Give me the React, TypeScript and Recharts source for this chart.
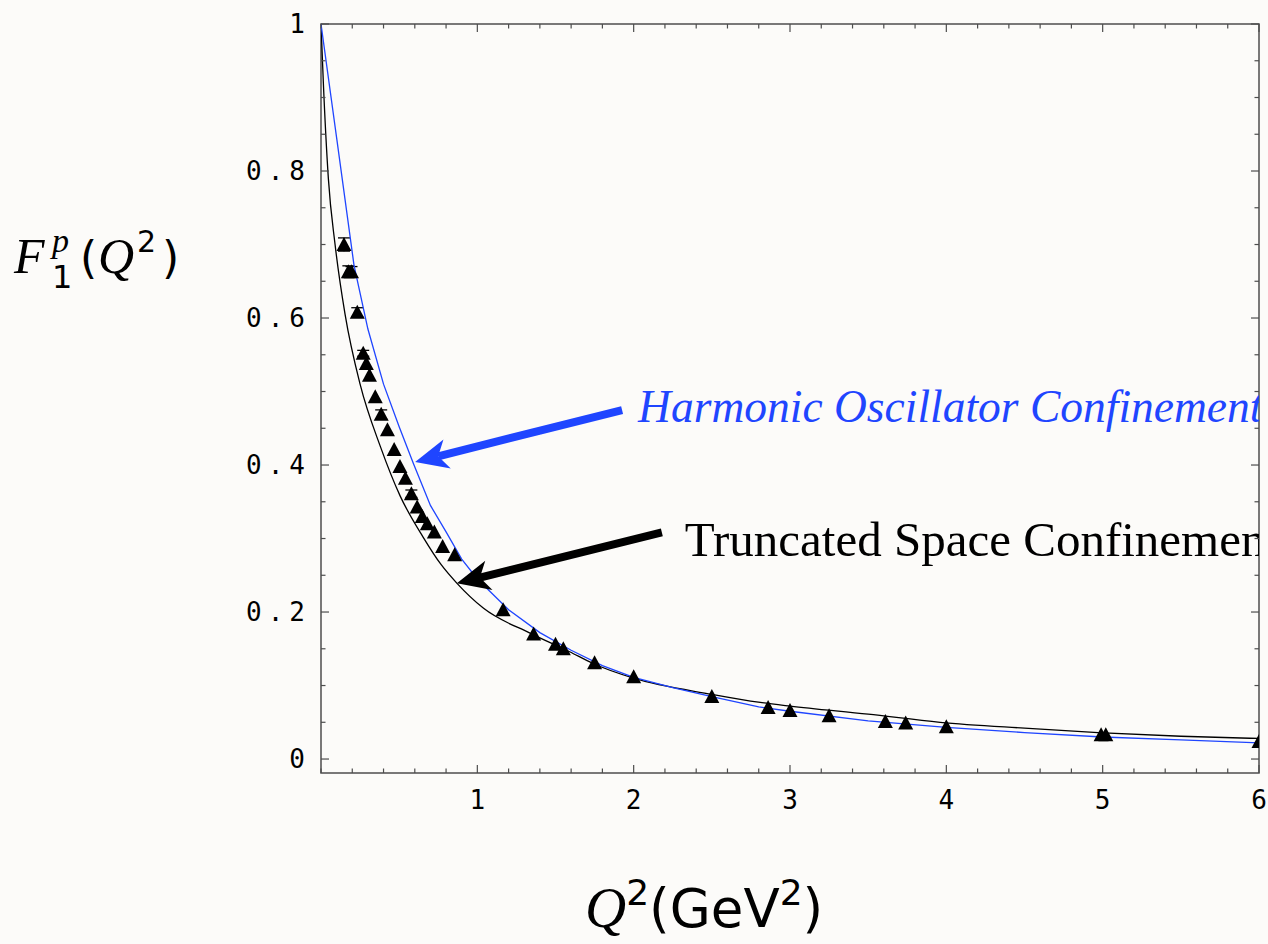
import React from 'react';
import { ComposedChart, Line, Scatter, ErrorBar, XAxis, YAxis, ReferenceArea, ReferenceDot } from 'recharts';

// measured proton F1 (triangles)
const expQ2 = [0.147, 0.175, 0.195, 0.232, 0.27, 0.29, 0.31, 0.347, 0.385, 0.425, 0.468, 0.505, 0.54, 0.578, 0.615, 0.648, 0.68, 0.725, 0.778, 0.855, 1.165, 1.36, 1.5, 1.55, 1.75, 2.0, 2.5, 2.86, 3.0, 3.25, 3.61, 3.74, 4.0, 4.99, 5.02, 6.0];
const expF1 = [0.7, 0.663, 0.663, 0.608, 0.552, 0.538, 0.522, 0.493, 0.469, 0.448, 0.421, 0.398, 0.382, 0.361, 0.343, 0.33, 0.32, 0.309, 0.289, 0.278, 0.203, 0.17, 0.156, 0.15, 0.131, 0.112, 0.085, 0.07, 0.066, 0.059, 0.051, 0.049, 0.044, 0.033, 0.033, 0.024];
const expErr = [0.009, 0.008, 0.007, 0.006, 0.004, null, null, null, 0.006, null, null, null, null, 0.005, null, null, null, null, null, null, null, null, null, null, null, null, null, null, null, null, null, null, null, null, null, null];

// harmonic oscillator confinement (blue)
const hoQ2 = [0, 0.1, 0.211, 0.3, 0.4, 0.5, 0.591, 0.7, 0.8, 0.9, 1.0, 1.2, 1.4, 1.6, 1.8, 2.0, 2.25, 2.5, 2.8, 3.0, 3.5, 4.0, 4.5, 5.0, 5.5, 6.0];
const hoF1 = [1, 0.845, 0.672, 0.585, 0.51, 0.452, 0.402, 0.345, 0.309, 0.272, 0.245, 0.203, 0.172, 0.148, 0.127, 0.111, 0.097, 0.085, 0.071, 0.065, 0.052, 0.043, 0.036, 0.03, 0.026, 0.022];

// truncated space confinement (black)
const tsQ2 = [0, 0.015, 0.047, 0.09, 0.154, 0.25, 0.38, 0.506, 0.653, 0.77, 0.87, 1.04, 1.34, 1.59, 1.74, 2.0, 2.5, 2.81, 3.0, 3.5, 3.96, 4.5, 4.97, 5.5, 6.0];
const tsF1 = [1, 0.92, 0.79, 0.7, 0.605, 0.51, 0.425, 0.358, 0.302, 0.264, 0.239, 0.205, 0.171, 0.146, 0.13, 0.11, 0.088, 0.077, 0.072, 0.061, 0.05, 0.042, 0.036, 0.031, 0.028];

const xTicks = [0, 0.2, 0.4, 0.6, 0.8, 1, 1.2, 1.4, 1.6, 1.8, 2, 2.2, 2.4, 2.6, 2.8, 3, 3.2, 3.4, 3.6, 3.8, 4, 4.2, 4.4, 4.6, 4.8, 5, 5.2, 5.4, 5.6, 5.8, 6];
const xLabelValues = [1, 2, 3, 4, 5, 6];
const xTickLabels = ['1', '2', '3', '4', '5', '6'];
const yTicks = [0, 0.05, 0.1, 0.15, 0.2, 0.25, 0.3, 0.35, 0.4, 0.45, 0.5, 0.55, 0.6, 0.65, 0.7, 0.75, 0.8, 0.85, 0.9, 0.95, 1];
const yLabelValues = [0, 0.2, 0.4, 0.6, 0.8, 1];
const yTickLabels = ['0', '0.2', '0.4', '0.6', '0.8', '1'];

const expData = expQ2.map((x, i) => ({ x, y: expF1[i], err: expErr[i] }));
const hoData = hoQ2.map((x, i) => ({ x, y: hoF1[i] }));
const tsData = tsQ2.map((x, i) => ({ x, y: tsF1[i] }));

const W = 1268;
const H = 944;
const PLOT_LEFT = 321;
const PLOT_RIGHT = 1259;
const PLOT_TOP = 24;
const PLOT_BOTTOM = 773;
const FRAME = '#4d4d4d';
const BLUE = '#1f45ff';
const MONO = "'DejaVu Sans Mono', monospace";
const SERIF = "'Liberation Serif', serif";
const SANS = "'DejaVu Sans', sans-serif";

const findLabel = (v: number, vals: number[], labels: string[]) => {
  const i = vals.findIndex((m) => Math.abs(m - v) < 1e-6);
  return i >= 0 ? labels[i] : null;
};

function XTick(props: any) {
  const { x, y, payload } = props;
  const label = findLabel(payload.value, xLabelValues, xTickLabels);
  const len = label ? 8 : 4.5;
  return (
    <g>
      <line x1={x} x2={x} y1={PLOT_BOTTOM} y2={PLOT_BOTTOM - len} stroke={FRAME} strokeWidth={1.2} />
      <line x1={x} x2={x} y1={PLOT_TOP} y2={PLOT_TOP + len} stroke={FRAME} strokeWidth={1.2} />
      {label && (
        <text x={x + 3} y={y} dy="0.75em" textAnchor="middle" fontFamily={MONO} fontSize={26} letterSpacing={6} fill="#000">
          {label}
        </text>
      )}
    </g>
  );
}

function YTick(props: any) {
  const { x, y, payload } = props;
  const label = findLabel(payload.value, yLabelValues, yTickLabels);
  const len = label ? 8 : 4.5;
  return (
    <g>
      <line x1={PLOT_LEFT} x2={PLOT_LEFT + len} y1={y} y2={y} stroke={FRAME} strokeWidth={1.2} />
      <line x1={PLOT_RIGHT} x2={PLOT_RIGHT - len} y1={y} y2={y} stroke={FRAME} strokeWidth={1.2} />
      {label && (
        <text x={x} y={y} dy="0.36em" textAnchor="end" fontFamily={MONO} fontSize={26} letterSpacing={6} fill="#000">
          {label}
        </text>
      )}
    </g>
  );
}

function XTitle() {
  return (
    <text x={585} y={927} fontSize={53} fill="#000" fontFamily={SANS}>
      <tspan fontFamily={SERIF} fontStyle="italic" fontSize={57}>Q</tspan>
      <tspan dy={-22} fontSize={36}>2</tspan>
      <tspan dy={22}>(GeV</tspan>
      <tspan dy={-22} fontSize={36}>2</tspan>
      <tspan dy={22}>)</tspan>
    </text>
  );
}

function YTitle() {
  return (
    <g fill="#000">
      <text x={14} y={273} fontFamily={SERIF} fontStyle="italic" fontSize={50}>F</text>
      <text x={52} y={252} fontFamily={SERIF} fontStyle="italic" fontSize={34}>p</text>
      <text x={52} y={288} fontFamily={SANS} fontSize={32}>1</text>
      <text x={80} y={273} fontFamily={SANS} fontSize={44}>(</text>
      <text x={98} y={273} fontFamily={SERIF} fontStyle="italic" fontSize={50}>Q</text>
      <text x={137} y={252} fontFamily={SANS} fontSize={30}>2</text>
      <text x={162} y={273} fontFamily={SANS} fontSize={44}>)</text>
    </g>
  );
}

function Triangle(props: any) {
  const { cx, cy } = props;
  if (cx == null || cy == null) return null;
  return <polygon points={`${cx},${cy - 7.5} ${cx - 7.5},${cy + 6.5} ${cx + 7.5},${cy + 6.5}`} fill="#000" />;
}

function Annotation(props: any) {
  const { cx, cy, dx, dy, color, text, tx, ty, italic, shaft, fontSize } = props;
  if (cx == null || cy == null) return null;
  const len = Math.hypot(dx, dy);
  const ux = dx / len;
  const uy = dy / len;
  const nx = -uy;
  const ny = ux;
  const headLen = 33;
  const headHalf = 15;
  const bx = cx + ux * headLen;
  const by = cy + uy * headLen;
  const notchX = cx + ux * headLen * 0.72;
  const notchY = cy + uy * headLen * 0.72;
  const clipId = `clip-${color.replace('#', '')}`;
  return (
    <g>
      <defs>
        <clipPath id={clipId}>
          <rect x={0} y={0} width={PLOT_RIGHT} height={H} />
        </clipPath>
      </defs>
      <line x1={notchX} y1={notchY} x2={cx + dx} y2={cy + dy} stroke={color} strokeWidth={shaft} />
      <polygon
        points={`${cx},${cy} ${bx + nx * headHalf},${by + ny * headHalf} ${notchX},${notchY} ${bx - nx * headHalf},${by - ny * headHalf}`}
        fill={color}
      />
      <text
        x={cx + tx}
        y={cy + ty}
        fill={color}
        fontFamily={SERIF}
        fontStyle={italic ? 'italic' : 'normal'}
        fontSize={fontSize}
        clipPath={`url(#${clipId})`}
      >
        {text}
      </text>
    </g>
  );
}

export default function App() {
  return (
    <div style={{ position: 'absolute', left: 0, top: 0, width: W, height: H, background: '#fcfbf9' }}>
      <ComposedChart width={W} height={H} margin={{ top: PLOT_TOP, right: W - PLOT_RIGHT, bottom: 0, left: 0 }}>
        <XAxis
          type="number"
          dataKey="x"
          domain={[0, 6]}
          ticks={xTicks}
          interval={0}
          tickSize={0}
          tickMargin={16}
          axisLine={false}
          tickLine={false}
          tick={<XTick />}
          height={H - PLOT_BOTTOM}
          allowDataOverflow
          label={<XTitle />}
        />
        <YAxis
          type="number"
          dataKey="y"
          domain={[-0.019, 1]}
          ticks={yTicks}
          interval={0}
          tickSize={0}
          tickMargin={10}
          axisLine={false}
          tickLine={false}
          tick={<YTick />}
          width={PLOT_LEFT}
          allowDataOverflow
          label={<YTitle />}
        />
        <Scatter data={expData} dataKey="y" shape={<Triangle />} isAnimationActive={false}>
          <ErrorBar dataKey="err" direction="y" width={6} stroke="#000" strokeWidth={1.3} isAnimationActive={false} />
        </Scatter>
        <Line data={tsData} dataKey="y" type="monotone" stroke="#000" strokeWidth={1.3} dot={false} isAnimationActive={false} />
        <Line data={hoData} dataKey="y" type="linear" stroke={BLUE} strokeWidth={1.3} dot={false} isAnimationActive={false} />
        <ReferenceArea x1={0} x2={6} y1={-0.019} y2={1} fill="none" stroke={FRAME} strokeWidth={1.5} ifOverflow="visible" />
        <ReferenceDot
          x={0.602}
          y={0.404}
          r={1}
          ifOverflow="visible"
          shape={<Annotation dx={207} dy={-52} color={BLUE} shaft={8} text="Harmonic Oscillator Confinement" tx={223} ty={-40} italic fontSize={45.5} />}
        />
        <ReferenceDot
          x={0.869}
          y={0.239}
          r={1}
          ifOverflow="visible"
          shape={<Annotation dx={205} dy={-51} color="#000000" shaft={8} text="Truncated Space Confinement" tx={228} ty={-27} italic={false} fontSize={49} />}
        />
      </ComposedChart>
    </div>
  );
}
